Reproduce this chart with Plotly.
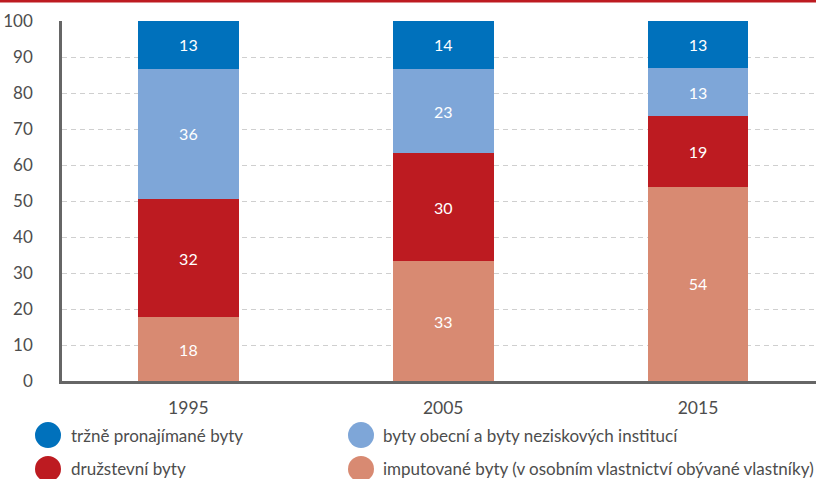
import plotly.graph_objects as go

years = ["1995", "2005", "2015"]
series_names = [
    "imputované byty (v osobním vlastnictví obývané vlastníky)",
    "družstevní byty",
    "byty obecní a byty neziskových institucí",
    "tržně pronajímané byty",
]
imputovane = [17.7, 33.2, 54.0]
druzstevni = [32.9, 30.0, 19.5]
obecni = [36.2, 23.5, 13.5]
trzni = [13.2, 13.3, 13.0]
label_imputovane = ["18", "33", "54"]
label_druzstevni = ["32", "30", "19"]
label_obecni = ["36", "23", "13"]
label_trzni = ["13", "14", "13"]
colors = ["#d88a72", "#bd1b21", "#7ea6d8", "#0071bc"]
y_ticks = [0, 10, 20, 30, 40, 50, 60, 70, 80, 90, 100]

FONT = "Lato"
W, H = 816, 479
L, R, T, B = 62, 0, 21, 97.5
PW, PH = W - L - R, H - T - B

def px_x(x):
    return (x - L) / PW

def px_y(y):
    return (H - B - y) / PH

xpos = list(range(len(years)))
fig = go.Figure()
values = [imputovane, druzstevni, obecni, trzni]
labels = [label_imputovane, label_druzstevni, label_obecni, label_trzni]
for name, vals, labs, col in zip(series_names, values, labels, colors):
    fig.add_trace(go.Bar(
        x=xpos, y=vals, name=name, text=labs,
        marker=dict(color=col, line=dict(width=0)),
        width=0.396,
        textposition="inside", insidetextanchor="middle", textangle=0,
        constraintext="none",
        textfont=dict(family=FONT, size=16, color="white"),
        showlegend=False, hoverinfo="skip",
    ))

fig.update_layout(
    barmode="stack",
    width=W, height=H,
    margin=dict(l=L, r=R, t=T, b=B, pad=0),
    paper_bgcolor="white", plot_bgcolor="white",
    font=dict(family=FONT, size=17, color="#4d4d4d"),
    showlegend=False,
)
fig.update_xaxes(
    range=[-0.496, 2.463], tickvals=xpos, ticktext=years,
    showgrid=False, zeroline=False,
    showline=True, linecolor="#666666", linewidth=2.5,
    ticks="", ticklabelstandoff=9,
    tickfont=dict(family=FONT, size=17.5, color="#4d4d4d"),
)
fig.update_yaxes(
    range=[0, 100], tickvals=y_ticks,
    showgrid=True, gridcolor="#cfcfcf", gridwidth=1, griddash="5px,4px",
    zeroline=False,
    showline=True, linecolor="#666666", linewidth=2.5,
    ticks="", ticklabelstandoff=23,
    tickfont=dict(family=FONT, size=17, color="#4d4d4d"),
)

shapes = [dict(type="rect", xref="paper", yref="paper",
               x0=px_x(0), x1=px_x(W), y0=px_y(2.5), y1=px_y(0),
               fillcolor="#bd1b21", line=dict(width=0), layer="above")]
annotations = []
legend_order = [3, 2, 1, 0]
legend_pos = [(48, 69, 435.7), (361, 381, 435.7), (48, 69, 469.5), (361, 381, 469.5)]
for idx, (cx, tx, cy) in zip(legend_order, legend_pos):
    shapes.append(dict(type="circle", xref="paper", yref="paper",
                       xsizemode="pixel", ysizemode="pixel",
                       xanchor=px_x(cx), yanchor=px_y(cy),
                       x0=-13, x1=13, y0=-13, y1=13,
                       fillcolor=colors[idx], line=dict(width=0)))
    annotations.append(dict(xref="paper", yref="paper", x=px_x(tx), y=px_y(cy),
                            text=series_names[idx], showarrow=False,
                            xanchor="left", yanchor="middle",
                            font=dict(family=FONT, size=17, color="#4d4d4d")))
fig.update_layout(shapes=shapes, annotations=annotations)

fig.write_html("out.html", config={"displayModeBar": False},
               post_script="document.body.style.margin='0';document.body.style.padding='0';")
